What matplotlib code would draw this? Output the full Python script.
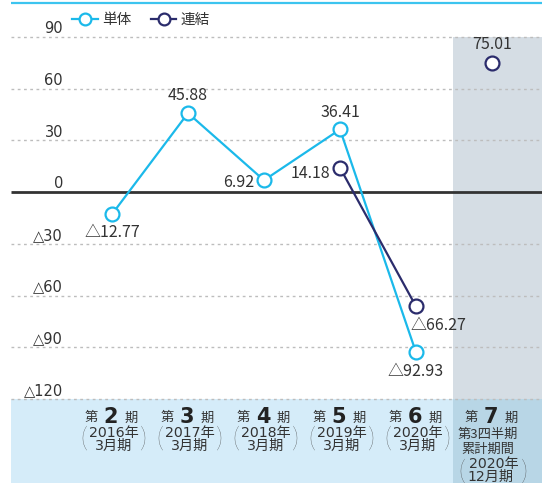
import numpy as np
import matplotlib
matplotlib.use("Agg")
import matplotlib.pyplot as plt
from matplotlib.lines import Line2D

plt.rcParams['font.family'] = ['Noto Sans CJK JP', 'DejaVu Sans']

# ---- data ----
period_nums = ['2', '3', '4', '5', '6', '7']
period_years = ['2016年', '2017年', '2018年', '2019年', '2020年', '2020年']
period_ends = ['3月期', '3月期', '3月期', '3月期', '3月期', '12月期']
single = [-12.77, 45.88, 6.92, 36.41, -92.93, np.nan]
consol = [np.nan, np.nan, np.nan, 14.18, -66.27, 75.01]
yticks = [90, 60, 30, 0, -30, -60, -90, -120]
series_names = ['単体', '連結']
n_annual = 5  # first five periods are full years (joined by lines)

CYAN = '#1bb9ea'
NAVY = '#2b2c6c'
TXT = '#333333'
DIG = ['DejaVu Sans', 'Noto Sans CJK JP']
PAREN = ['Lato', 'DejaVu Sans']

W, H = 542, 483
fig = plt.figure(figsize=(W / 100, H / 100), dpi=100)
ax = fig.add_axes([0, 0, 1, 1])
ax.set_axis_off()

XL, XR = -112 / 76, (542 - 112) / 76
YB, YT = -168.7, 111.5
ax.set_xlim(XL, XR)
ax.set_ylim(YB, YT)
plot_left = -1.329
band_x = 4.487
x = np.arange(len(period_nums))

def py(p):
    return YT - p * (YT - YB) / H

# backgrounds
ax.fill_between([band_x, XR], -120, 90, color='#d5dde4', zorder=0, lw=0)
ax.fill_between([plot_left, band_x], YB, -120, color='#d5ecf9', zorder=0, lw=0)
ax.fill_between([band_x, XR], YB, -120, color='#b8d6e6', zorder=0, lw=0)
ax.hlines(py(2.7), plot_left, XR, color='#3cc4ef', lw=1.6, zorder=1)

# grid + y labels
for t in yticks:
    if t == 0:
        ax.hlines(0, plot_left, XR, color='#333333', lw=2.0, zorder=2)
    else:
        ax.hlines(t, plot_left, XR, color='#bdbdbd', lw=1.0,
                  linestyles=(0, (2, 2.5)), zorder=1)
    lab = str(t) if t >= 0 else '△' + str(abs(t))
    ax.text(-0.645, t + 2.3, lab, ha='right', va='baseline',
            fontsize=10.5, color=TXT, zorder=3, family=DIG)

# lines (annual periods joined, cumulative period shown as a lone marker)
mk = dict(marker='o', ms=10, mfc='white', mew=1.6)
for vals, col, z in ((single, CYAN, 4), (consol, NAVY, 5)):
    v = np.array(vals, dtype=float)
    ax.plot(x[:n_annual], v[:n_annual], color=col, lw=1.6, mec=col,
            zorder=z, **mk)
    ax.plot(x[n_annual:], v[n_annual:], ls='none', mec=col, zorder=z, **mk)

def fmt(v):
    return ('△' if v < 0 else '') + f'{abs(v):.2f}'

# label offsets in pixels (dx, dy, ha)
single_off = [(0, -18, 'center'), (0, 18, 'center'), (-10, -2, 'right'),
              (0, 17, 'center'), (0, -19, 'center'), None]
consol_off = [None, None, None, (-10, -6, 'right'), (22, -19, 'center'),
              (0, 18, 'center')]
for vals, offs in ((single, single_off), (consol, consol_off)):
    for i, (v, o) in enumerate(zip(vals, offs)):
        if o is None or np.isnan(v):
            continue
        ax.annotate(fmt(v), (x[i], v), xytext=(o[0], o[1]),
                    textcoords='offset pixels', ha=o[2], va='center',
                    fontsize=11.5, color=TXT, zorder=6)

# legend
handles = [Line2D([], [], color=c, lw=1.6, marker='o', ms=8.5, mfc='white',
                  mec=c, mew=1.6) for c in (CYAN, NAVY)]
ax.legend(handles, series_names, loc='center left',
          bbox_to_anchor=(72 / W, 1 - 20 / H), ncol=2, frameon=False,
          fontsize=10.5, handlelength=1.75, handletextpad=0.3,
          columnspacing=1.35, borderpad=0, borderaxespad=0,
          labelcolor=TXT)

# category labels
u = 1 / 76  # one pixel in x data units
for i in range(len(period_nums)):
    xc = x[i]
    ax.text(xc - 1 * u, py(417), period_nums[i], ha='center', va='center',
            fontsize=15, fontweight='bold', color='#222222', zorder=6,
            family='DejaVu Sans')
    ax.text(xc - 21 * u, py(418), '第', ha='center', va='center',
            fontsize=9.5, color=TXT, zorder=6)
    ax.text(xc + 19 * u, py(418), '期', ha='center', va='center',
            fontsize=9.5, color=TXT, zorder=6)
    if i < n_annual:
        ax.text(xc + 2 * u, py(433), period_years[i], ha='center',
                va='center', fontsize=10.2, color=TXT, zorder=6, family=DIG)
        ax.text(xc + 2 * u, py(446), period_ends[i], ha='center',
                va='center', fontsize=10.2, color=TXT, zorder=6, family=DIG)
        ax.text(xc - 28 * u, py(439), '(', ha='center', va='center',
                fontsize=20, color='#444444', zorder=6, family=PAREN,
                fontweight='light')
        ax.text(xc + 31 * u, py(439), ')', ha='center', va='center',
                fontsize=20, color='#444444', zorder=6, family=PAREN,
                fontweight='light')
    else:
        ax.text(xc - 4 * u, py(434), '第3四半期', ha='center', va='center',
                fontsize=9.5, color=TXT, zorder=6)
        ax.text(xc - 4 * u, py(449), '累計期間', ha='center', va='center',
                fontsize=9.5, color=TXT, zorder=6)
        ax.text(xc + 2 * u, py(464), period_years[i], ha='center',
                va='center', fontsize=10.2, color=TXT, zorder=6, family=DIG)
        ax.text(xc - 2 * u, py(477), period_ends[i], ha='center',
                va='center', fontsize=10.2, color=TXT, zorder=6, family=DIG)
        ax.text(xc - 30 * u, py(472), '(', ha='center', va='center',
                fontsize=20, color='#444444', zorder=6, family=PAREN,
                fontweight='light')
        ax.text(xc + 32 * u, py(472), ')', ha='center', va='center',
                fontsize=20, color='#444444', zorder=6, family=PAREN,
                fontweight='light')

fig.savefig('out.png', dpi=100)
